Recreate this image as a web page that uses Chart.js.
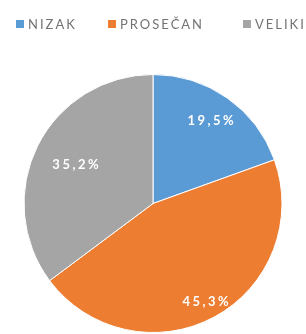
<!DOCTYPE html>
<html>
<head>
<meta charset="utf-8">
<script src="https://cdn.jsdelivr.net/npm/chart.js@4"></script>
<style>
  html, body { margin: 0; padding: 0; background: #fff; }
</style>
</head>
<body>
<canvas id="c" width="306" height="334"></canvas>
<script>
const categories = ['NIZAK', 'PROSEČAN', 'VELIKI'];
const values = [19.5, 45.3, 35.2];
const sliceColors = ['#5B9BD5', '#ED7D31', '#A5A5A5'];

// layout bits (not data)
const labelRadius = [0.78, 0.865, 0.67];
const legendBoxX = [16, 108, 243];
const legendY = 24;

// legend row drawn by hand so the wide letter spacing can be matched
const topLegend = {
  id: 'topLegend',
  afterDraw(chart) {
    const ctx = chart.ctx;
    ctx.save();
    ctx.font = '13px Lato, "DejaVu Sans", sans-serif';
    ctx.letterSpacing = '2px';
    ctx.textBaseline = 'middle';
    ctx.textAlign = 'left';
    categories.forEach((name, i) => {
      ctx.fillStyle = sliceColors[i];
      ctx.fillRect(legendBoxX[i], legendY - 4, 8, 8);
      ctx.fillStyle = '#737373';
      ctx.fillText(name, legendBoxX[i] + 12, legendY + 1);
    });
    ctx.restore();
  }
};

// draws "19,5%" style labels inside the slices
const sliceLabels = {
  id: 'sliceLabels',
  afterDatasetsDraw(chart) {
    const ctx = chart.ctx;
    const meta = chart.getDatasetMeta(0);
    ctx.save();
    ctx.font = 'bold 13px Lato, "DejaVu Sans", sans-serif';
    ctx.letterSpacing = '2.5px';
    ctx.fillStyle = '#ffffff';
    ctx.textAlign = 'center';
    ctx.textBaseline = 'middle';
    meta.data.forEach((arc, i) => {
      const p = arc.getProps(['x', 'y', 'startAngle', 'endAngle', 'outerRadius'], true);
      const mid = (p.startAngle + p.endAngle) / 2;
      const r = p.outerRadius * labelRadius[i];
      const text = values[i].toFixed(1).replace('.', ',') + '%';
      ctx.fillText(text, p.x + Math.cos(mid) * r + 1, p.y + Math.sin(mid) * r);
    });
    ctx.restore();
  }
};

new Chart(document.getElementById('c'), {
  type: 'pie',
  data: {
    labels: categories,
    datasets: [{
      data: values,
      backgroundColor: sliceColors,
      borderColor: '#ffffff',
      borderWidth: 1
    }]
  },
  options: {
    responsive: false,
    animation: false,
    layout: { padding: { top: 74, bottom: 1, left: 0, right: 0 } },
    plugins: {
      legend: { display: false },
      tooltip: { enabled: false }
    }
  },
  plugins: [sliceLabels, topLegend]
});
</script>
</body>
</html>
